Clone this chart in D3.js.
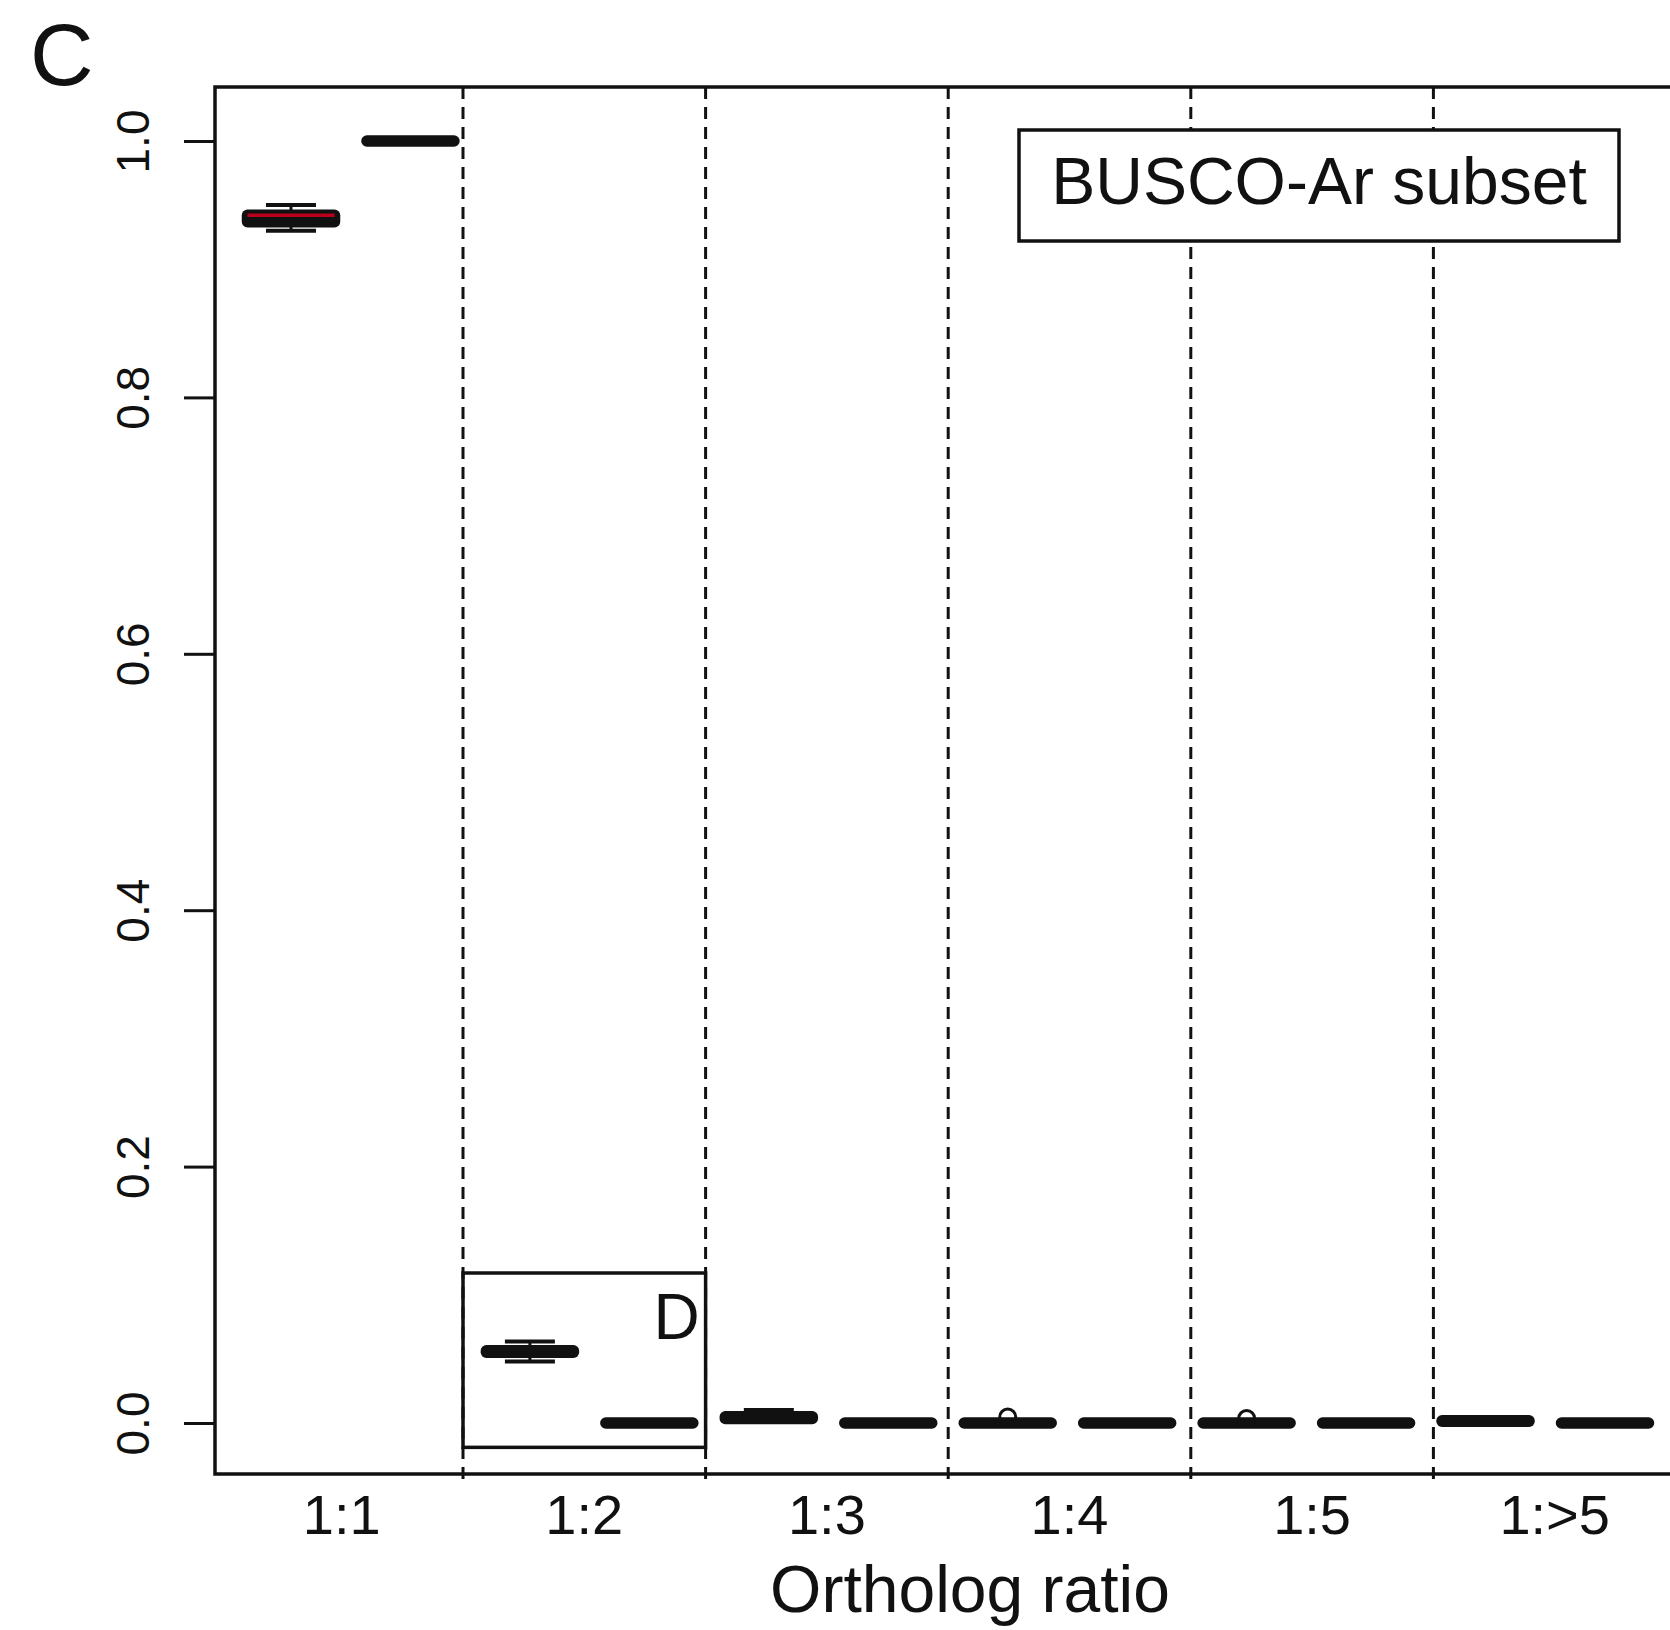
<!DOCTYPE html>
<html>
<head>
<meta charset="utf-8">
<script src="https://cdn.jsdelivr.net/npm/d3@7"></script>
<style>
  html, body { margin: 0; padding: 0; background: #fff; }
  svg { display: block; font-family: "Liberation Sans", Arial, Helvetica, sans-serif; }
</style>
</head>
<body>
<svg id="chart" width="1670" height="1630"></svg>
<script>
// ---------------- data ----------------
const categories = ["1:1", "1:2", "1:3", "1:4", "1:5", "1:>5"];
// five-number summaries per category: [whiskerLow, q1, median, q3, whiskerHigh]
const seriesA = [
  [0.930, 0.937, 0.942, 0.942, 0.950],
  [0.048, 0.0552, 0.0558, 0.0564, 0.0636],
  [0.002, 0.0035, 0.0042, 0.0048, 0.0101],
  [0, 0, 0, 0, 0],
  [0, 0, 0, 0, 0],
  [0.0012, 0.0014, 0.0016, 0.0018, 0.002]
];
const seriesB = [
  [1, 1, 1, 1, 1],
  [0, 0, 0, 0, 0],
  [0, 0, 0, 0, 0],
  [0, 0, 0, 0, 0],
  [0, 0, 0, 0, 0],
  [0, 0, 0, 0, 0]
];
// outliers of series A: [categoryIndex, value]
const outliersA = [[3, 0.0047], [4, 0.0035]];
const yTicks = [0, 0.2, 0.4, 0.6, 0.8, 1.0];
const panelLabel = "C";
const insetLabel = "D";
const legendText = "BUSCO-Ar subset";
const xTitle = "Ortholog ratio";

// ---------------- layout ----------------
const svg = d3.select("#chart");
const frame = { left: 215, top: 87, right: 1682, bottom: 1474 };

const y = d3.scaleLinear().domain([0, 1]).range([1423, 141]);
// box positions (1..12)
const xBox = d3.scaleLinear().domain([1, 12]).range([291, 1605]);
// category groups
const xGroup = d3.scaleBand().domain(categories).range([220.4, 220.4 + 6 * 242.6]).padding(0);

const boxes = [];
categories.forEach((c, i) => {
  boxes.push({ pos: 2 * i + 1, s: seriesA[i] });
  boxes.push({ pos: 2 * i + 2, s: seriesB[i] });
});

svg.append("defs").append("clipPath").attr("id", "plotclip")
  .append("rect").attr("x", frame.left).attr("y", frame.top)
  .attr("width", frame.right - frame.left).attr("height", frame.bottom - frame.top + 8);

// dashed dividers between categories
const dividers = categories.slice(1).map(c => xGroup(c));
svg.append("g").selectAll("line").data(dividers).join("line")
  .attr("x1", d => d).attr("x2", d => d)
  .attr("y1", frame.top).attr("y2", frame.bottom + 6)
  .attr("stroke", "#111").attr("stroke-width", 3)
  .attr("stroke-dasharray", "12,8");

// inset D rectangle around the 1:2 group
svg.append("rect")
  .attr("x", xGroup("1:2")).attr("width", xGroup.bandwidth())
  .attr("y", y(0.117)).attr("height", y(-0.019) - y(0.117))
  .attr("fill", "none").attr("stroke", "#111").attr("stroke-width", 3.5);
svg.append("text").attr("x", xGroup("1:2") + xGroup.bandwidth() - 6).attr("y", 1339)
  .attr("text-anchor", "end").attr("font-size", 64).attr("fill", "#111").text(insetLabel);

// boxes
const half = 43.5, capHalf = 25;
const gb = svg.append("g").attr("clip-path", "url(#plotclip)");
boxes.forEach(b => {
  const cx = xBox(b.pos);
  const [lo, q1, med, q3, hi] = b.s;
  const g = gb.append("g");
  // whiskers
  g.append("line").attr("x1", cx).attr("x2", cx).attr("y1", y(hi)).attr("y2", y(lo))
    .attr("stroke", "#111").attr("stroke-width", 3);
  g.selectAll("line.cap").data([lo, hi]).join("line").attr("class", "cap")
    .attr("x1", cx - capHalf).attr("x2", cx + capHalf)
    .attr("y1", d => y(d)).attr("y2", d => y(d))
    .attr("stroke", "#111").attr("stroke-width", 4);
  // box as path (so zero-height boxes still render)
  const p = d3.path();
  p.moveTo(cx - half, y(q3)); p.lineTo(cx + half, y(q3));
  p.lineTo(cx + half, y(q1)); p.lineTo(cx - half, y(q1)); p.closePath();
  g.append("path").attr("d", p.toString()).attr("fill", "#111")
    .attr("stroke", "#111").attr("stroke-width", 11.5).attr("stroke-linejoin", "round");
  // median shown in red only where the box is tall enough to reveal it
  if (q3 - q1 > 0.003) {
    g.append("line").attr("x1", cx - half).attr("x2", cx + half)
      .attr("y1", y(med)).attr("y2", y(med))
      .attr("stroke", "#b8001c").attr("stroke-width", 3.5);
  }
});
// outliers
gb.selectAll("circle.out").data(outliersA).join("circle").attr("class", "out")
  .attr("cx", d => xBox(2 * d[0] + 1)).attr("cy", d => y(d[1])).attr("r", 8)
  .attr("fill", "none").attr("stroke", "#111").attr("stroke-width", 3);

// legend box
svg.append("rect").attr("x", 1019).attr("y", 130).attr("width", 600).attr("height", 111)
  .attr("fill", "#fff").attr("stroke", "#111").attr("stroke-width", 3.5);
svg.append("text").attr("x", 1319).attr("y", 204).attr("text-anchor", "middle")
  .attr("font-size", 66).attr("fill", "#111").text(legendText);

// frame
svg.append("rect").attr("x", frame.left).attr("y", frame.top)
  .attr("width", frame.right - frame.left).attr("height", frame.bottom - frame.top)
  .attr("fill", "none").attr("stroke", "#111").attr("stroke-width", 3.5);

// y axis
const yAxis = d3.axisLeft(y).tickValues(yTicks).tickFormat(d3.format(".1f"))
  .tickSize(31).tickSizeOuter(0);
const ga = svg.append("g").attr("transform", `translate(${frame.left},0)`).call(yAxis);
ga.select(".domain").remove();
ga.selectAll(".tick line").attr("stroke", "#111").attr("stroke-width", 3);
ga.selectAll(".tick text")
  .attr("transform", "rotate(-90)")
  .attr("x", 0).attr("y", -83).attr("dy", "0.36em")
  .attr("text-anchor", "middle")
  .attr("font-size", 46).attr("fill", "#111")
  .attr("font-family", "'Liberation Sans', Arial, sans-serif");

// x category labels
svg.append("g").selectAll("text").data(categories).join("text")
  .attr("x", d => xGroup(d) + xGroup.bandwidth() / 2).attr("y", 1534)
  .attr("text-anchor", "middle").attr("font-size", 56).attr("fill", "#111")
  .text(d => d);

// x title
svg.append("text").attr("x", 970).attr("y", 1612).attr("text-anchor", "middle")
  .attr("font-size", 66).attr("fill", "#111").text(xTitle);

// panel label
svg.append("text").attr("x", 30).attr("y", 85).attr("font-size", 88).attr("fill", "#111")
  .text(panelLabel);
</script>
</body>
</html>
